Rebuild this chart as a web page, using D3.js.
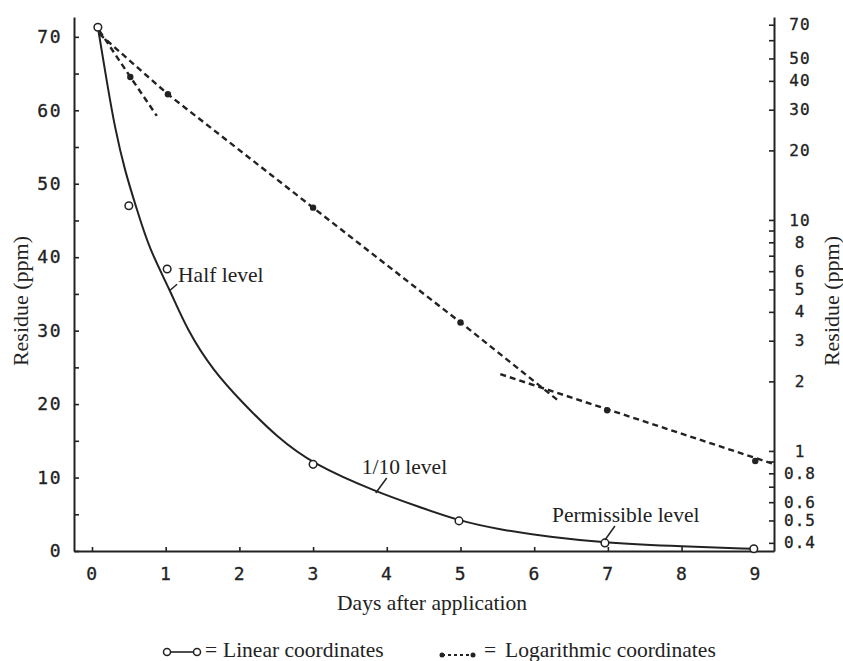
<!DOCTYPE html>
<html>
<head>
<meta charset="utf-8">
<script src="https://cdn.jsdelivr.net/npm/d3@7"></script>
<style>
  body { margin: 0; background: #fff; }
  .tick text { font-family: "DejaVu Sans Mono", monospace; font-size: 18px; fill: #222; stroke: #222; stroke-width: 0.3px; letter-spacing: 1.5px; }
  .logaxis .tick text { font-size: 16px; letter-spacing: 1px; }
  .serif { font-family: "Liberation Serif", "Times New Roman", serif; font-size: 21.5px; fill: #222; }
</style>
</head>
<body>
<div id="chart"></div>
<script>
// linear coordinates (open circles)
var linDays = [0.08, 0.5, 1.02, 3.0, 4.98, 6.96, 8.98];
var linValues = [71.3, 47.0, 38.4, 11.8, 4.1, 1.1, 0.3];

// smooth curve drawn through the linear data
var curveDays = [0.08, 0.2, 0.31, 0.45, 0.61, 0.77, 1.06, 1.29, 1.64, 2.05, 2.51, 3.0, 3.87, 4.41, 4.98, 5.54, 6.21, 6.96, 8.02, 8.98];
var curveValues = [71.3, 64.0, 57.6, 51.6, 46.5, 41.3, 35.5, 30.1, 24.6, 20.1, 15.5, 11.8, 8.0, 6.1, 4.1, 2.9, 1.9, 1.1, 0.6, 0.3];

// logarithmic coordinates (filled dots)
var logDays = [0.52, 1.03, 3.0, 5.0, 6.99, 9.0];
var logValues = [41.6, 35.0, 11.3, 3.6, 1.5, 0.905];

// dashed fitted lines on the log scale
var fitA = [[0.1, 66], [0.52, 41.6], [0.88, 28.2]];
var fitB = [[0.1, 63.9], [1.03, 35.0], [3.0, 11.3], [5.0, 3.6], [6.35, 1.63]];
var fitC = [[5.54, 2.15], [9.24, 0.88]];

var dayTicks = [0, 1, 2, 3, 4, 5, 6, 7, 8, 9];
var linTicks = [0, 5, 10, 15, 20, 25, 30, 35, 40, 45, 50, 55, 60, 65, 70];
var logTicks = [0.4, 0.5, 0.6, 0.7, 0.8, 0.9, 1, 2, 3, 4, 5, 6, 7, 8, 9, 10, 20, 30, 40, 50, 60, 70];
var logLabels = [0.4, 0.5, 0.6, 0.8, 1, 2, 3, 4, 5, 6, 8, 10, 20, 30, 40, 50, 70];

var notes = [
  { day: 1.06, value: 35.5, text: "Half level", lx: 7, ly: -6, tx: 8, ty: -8 },
  { day: 3.85, value: 7.9, text: "1/10 level", lx: 11, ly: -15, tx: -14, ty: -19 },
  { day: 6.96, value: 1.5, text: "Permissible level", lx: 10, ly: -14, tx: -53, ty: -18 }
];

var width = 843, height = 661;
var padLeft = 74, padRight = 774, padTop = 17, padBottom = 551;
var ink = "#222";

var svg = d3.select("#chart").append("svg")
  .attr("width", width)
  .attr("height", height);

var x = d3.scaleLinear().domain([-0.244, 9.254]).range([padLeft, padRight]);
var yLin = d3.scaleLinear().domain([0, 72.7]).range([padBottom, padTop]);
var yLog = d3.scaleLog().domain([0.3688, 75.6]).range([padBottom, padTop]);

// axes
var xaxis = d3.axisBottom(x).tickValues(dayTicks).tickSizeInner(-4).tickSizeOuter(0).tickPadding(16);
var yaxisL = d3.axisLeft(yLin).tickValues(linTicks)
  .tickFormat(d => d % 10 === 0 ? d : "")
  .tickSizeInner(-5).tickSizeOuter(0).tickPadding(12);
var yaxisR = d3.axisRight(yLog).tickValues(logTicks)
  .tickFormat(d => logLabels.indexOf(d) >= 0 ? d : "")
  .tickSizeInner(-5).tickSizeOuter(0).tickPadding(26);

svg.append("g").attr("transform", "translate(0," + padBottom + ")").call(xaxis);
svg.append("g").attr("transform", "translate(" + padLeft + ",0)").call(yaxisL);
var gr = svg.append("g").attr("class", "logaxis")
  .attr("transform", "translate(" + padRight + ",0)").call(yaxisR);
gr.selectAll(".tick text").attr("text-anchor", "middle");

svg.selectAll(".domain").attr("stroke", ink).attr("stroke-width", 2);
svg.selectAll(".tick line").attr("stroke", ink).attr("stroke-width", 1.6);

// axis titles
svg.append("text").attr("class", "serif")
  .attr("x", 432).attr("y", 610)
  .attr("text-anchor", "middle")
  .text("Days after application");

svg.append("text").attr("class", "serif")
  .attr("transform", "translate(28,301) rotate(-90)")
  .attr("text-anchor", "middle")
  .style("font-size", "22px")
  .text("Residue  (ppm)");

svg.append("text").attr("class", "serif")
  .attr("transform", "translate(839,301) rotate(-90)")
  .attr("text-anchor", "middle")
  .style("font-size", "22px")
  .text("Residue  (ppm)");

// solid curve on linear coordinates
var curvePts = curveDays.map((d, i) => [d, curveValues[i]]);
svg.append("path")
  .datum(curvePts)
  .attr("fill", "none")
  .attr("stroke", ink)
  .attr("stroke-width", 2)
  .attr("d", d3.line().x(d => x(d[0])).y(d => yLin(d[1])).curve(d3.curveBasis));

// dashed fits on log coordinates
var logLine = d3.line().x(d => x(d[0])).y(d => yLog(d[1]));
svg.selectAll(".fit")
  .data([fitA, fitB, fitC])
  .enter()
  .append("path")
  .attr("class", "fit")
  .attr("fill", "none")
  .attr("stroke", ink)
  .attr("stroke-width", 2.4)
  .attr("stroke-dasharray", "6,4")
  .attr("d", logLine);

// points
svg.selectAll(".logdot")
  .data(logDays)
  .enter()
  .append("circle")
  .attr("cx", d => x(d))
  .attr("cy", (d, i) => yLog(logValues[i]))
  .attr("r", 3.2)
  .attr("fill", ink);

svg.selectAll(".lindot")
  .data(linDays)
  .enter()
  .append("circle")
  .attr("cx", d => x(d))
  .attr("cy", (d, i) => yLin(linValues[i]))
  .attr("r", 3.8)
  .attr("fill", "#fff")
  .attr("stroke", ink)
  .attr("stroke-width", 1.5);

// annotations
notes.forEach(n => {
  var px = x(n.day), py = yLin(n.value);
  svg.append("line")
    .attr("x1", px).attr("y1", py)
    .attr("x2", px + n.lx).attr("y2", py + n.ly)
    .attr("stroke", ink).attr("stroke-width", 1.5);
  svg.append("text").attr("class", "serif")
    .attr("x", px + n.tx).attr("y", py + n.ty)
    .text(n.text);
});

// legend
var lg = svg.append("g");
lg.append("line").attr("x1", 167).attr("x2", 197).attr("y1", 652).attr("y2", 652)
  .attr("stroke", ink).attr("stroke-width", 1.6);
[167, 197].forEach(cx => {
  lg.append("circle").attr("cx", cx).attr("cy", 652).attr("r", 3.5)
    .attr("fill", "#fff").attr("stroke", ink).attr("stroke-width", 1.5);
});
lg.append("text").attr("class", "serif").attr("x", 205).attr("y", 657).text("=");
lg.append("text").attr("class", "serif").attr("x", 223).attr("y", 657).text("Linear coordinates");

lg.append("line").attr("x1", 442).attr("x2", 473).attr("y1", 655).attr("y2", 655)
  .attr("stroke", ink).attr("stroke-width", 2).attr("stroke-dasharray", "3,3");
[442, 473].forEach(cx => {
  lg.append("circle").attr("cx", cx).attr("cy", 655).attr("r", 2.5).attr("fill", ink);
});
lg.append("text").attr("class", "serif").attr("x", 484).attr("y", 657).text("=");
lg.append("text").attr("class", "serif").attr("x", 505).attr("y", 657).text("Logarithmic coordinates");
</script>
</body>
</html>
